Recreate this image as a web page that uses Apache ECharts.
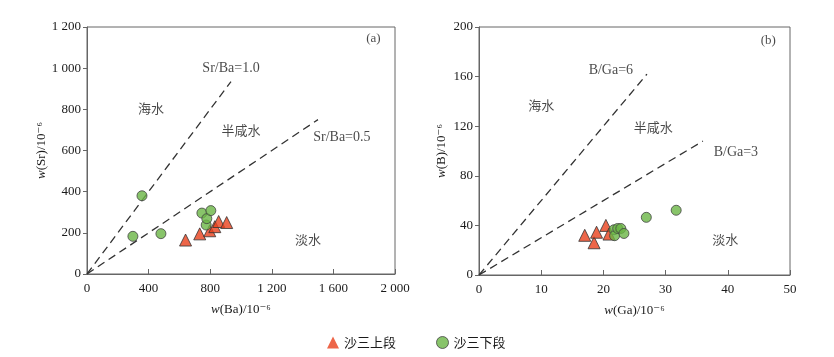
<!DOCTYPE html>
<html><head><meta charset="utf-8">
<script src="https://cdn.jsdelivr.net/npm/echarts@6/dist/echarts.min.js"></script>
<style>html,body{margin:0;padding:0;background:#fff}#c{width:834px;height:357px}</style>
</head><body><div id="c"></div>
<script>
// ---- data ----
const seriesNames = ['沙三上段', '沙三下段'];
// panel (a): Ba (x) vs Sr (y), 10^-6
const upperA = [[640,165],[732,195],[797,210],[830,230],[855,255],[907,250]];
const lowerA = [[298,183],[357,380],[480,196],[746,296],[774,238],[778,269],[804,308]];
// panel (b): Ga (x) vs B (y), 10^-6
const upperB = [[17.0,32],[18.5,26],[18.9,34.5],[20.4,40],[20.9,33]];
const lowerB = [[21.7,36.5],[21.8,31.7],[22.3,37.5],[22.8,37.5],[23.3,33.5],[26.9,46.5],[31.7,52.2]];
// ratio lines: ratio and x extent
const ratiosA = [1.0, 0.5];
const ratioEndA = [935, 1500];
const ratiosB = [6, 3];
const ratioEndB = [27, 36];
// axis ticks
const xTicksA = [0, 400, 800, 1200, 1600, 2000];
const yTicksA = [0, 200, 400, 600, 800, 1000, 1200];
const xTicksB = [0, 10, 20, 30, 40, 50];
const yTicksB = [0, 40, 80, 120, 160, 200];

const serif = '"Liberation Serif","DejaVu Serif",serif';
const cjk = '"Noto Sans CJK SC",sans-serif';
const txt = '#1a1a1a';
const axisCol = '#666';
const fmt = v => v >= 1000 ? String(v).replace(/(\d)(\d{3})$/, '$1 $2') : String(v);

function xAxis(gi, ticks, name) {
  return {
    gridIndex: gi, type: 'value', min: ticks[0], max: ticks[ticks.length-1],
    interval: ticks[1]-ticks[0],
    axisLine: {lineStyle: {color: axisCol, width: 1}},
    axisTick: {inside: true, length: 5, lineStyle: {color: axisCol}},
    axisLabel: {color: txt, fontFamily: serif, fontSize: 13, margin: 8, formatter: fmt},
    splitLine: {show: false},
    name: name, nameLocation: 'middle', nameGap: 29,
    nameTextStyle: {color: txt, fontFamily: serif, fontSize: 13,
      rich: {i: {fontStyle: 'italic', fontFamily: serif, fontSize: 13, color: txt}}}
  };
}
function yAxis(gi, ticks, name) {
  return {
    gridIndex: gi, type: 'value', min: ticks[0], max: ticks[ticks.length-1],
    interval: ticks[1]-ticks[0],
    axisLine: {lineStyle: {color: axisCol, width: 1}},
    axisTick: {inside: false, length: 4, lineStyle: {color: axisCol}},
    axisLabel: {color: txt, fontFamily: serif, fontSize: 13, margin: 6, formatter: fmt},
    splitLine: {show: false},
    name: name, nameLocation: 'middle', nameGap: 31,
    nameTextStyle: {color: txt, fontFamily: serif, fontSize: 13,
      rich: {i: {fontStyle: 'italic', fontFamily: serif, fontSize: 13, color: txt}}}
  };
}
function ratioLine(gi, r, xe) {
  return {type: 'line', xAxisIndex: gi, yAxisIndex: gi, silent: true, symbol: 'none',
    data: [[0,0],[xe, r*xe]],
    lineStyle: {color: '#333', width: 1.3, type: [8,5]}, z: 1};
}
function annot(gi, items) {
  return {type: 'scatter', xAxisIndex: gi, yAxisIndex: gi, silent: true, symbolSize: 0,
    data: items.map(it => ({value: [it[0], it[1]], label: {show: true, position: 'inside', formatter: it[2], color: txt, fontSize: it[4] || 14, fontFamily: it[3] || serif}})),
    z: 5};
}
const triStyle = {color: '#e8401c', borderColor: '#333', borderWidth: 1};
const cirStyle = {color: '#6ab545', borderColor: '#444', borderWidth: 1};

const option = {
  animation: false,
  backgroundColor: '#fff',
  grid: [
    {left: 87, right: 439, top: 27, bottom: 83, show: true, borderColor: axisCol, borderWidth: 1, backgroundColor: 'transparent'},
    {left: 479, right: 44, top: 27, bottom: 82, show: true, borderColor: axisCol, borderWidth: 1, backgroundColor: 'transparent'}
  ],
  xAxis: [xAxis(0, xTicksA, '{i|w}(Ba)/10⁻⁶'), xAxis(1, xTicksB, '{i|w}(Ga)/10⁻⁶')],
  yAxis: [yAxis(0, yTicksA, '{i|w}(Sr)/10⁻⁶'), yAxis(1, yTicksB, '{i|w}(B)/10⁻⁶')],
  legend: {
    data: [
      {name: seriesNames[0], icon: 'triangle', itemStyle: {color: '#e8401c', borderWidth: 0}},
      {name: seriesNames[1], icon: 'circle', itemStyle: {color: '#6ab545', borderColor: '#444', borderWidth: 1}}
    ],
    left: 322, top: 331, itemWidth: 12, itemHeight: 12, itemGap: 40,
    textStyle: {color: txt, fontFamily: cjk, fontSize: 13}
  },
  series: [
    ratioLine(0, ratiosA[0], ratioEndA[0]),
    ratioLine(0, ratiosA[1], ratioEndA[1]),
    ratioLine(1, ratiosB[0], ratioEndB[0]),
    ratioLine(1, ratiosB[1], ratioEndB[1]),
    annot(0, [[935, 1000, 'Sr/Ba=1.0'], [1655, 665, 'Sr/Ba=0.5'], [415, 805, '海水', cjk, 13], [1000, 700, '半咸水', cjk, 13], [1435, 170, '淡水', cjk, 13], [1860, 1145, '(a)', serif, 13]]),
    annot(1, [[21.2, 165, 'B/Ga=6'], [41.3, 99, 'B/Ga=3'], [10, 137, '海水', cjk, 13], [28, 119, '半咸水', cjk, 13], [39.6, 29, '淡水', cjk, 13], [46.5, 189, '(b)', serif, 13]]),
    {name: seriesNames[0], type: 'scatter', xAxisIndex: 0, yAxisIndex: 0, symbol: 'triangle', symbolSize: 12, data: upperA, itemStyle: triStyle, z: 3},
    {name: seriesNames[1], type: 'scatter', xAxisIndex: 0, yAxisIndex: 0, symbol: 'circle', symbolSize: 10, data: lowerA, itemStyle: cirStyle, z: 4},
    {name: seriesNames[0], type: 'scatter', xAxisIndex: 1, yAxisIndex: 1, symbol: 'triangle', symbolSize: 12, data: upperB, itemStyle: triStyle, z: 3},
    {name: seriesNames[1], type: 'scatter', xAxisIndex: 1, yAxisIndex: 1, symbol: 'circle', symbolSize: 10, data: lowerB, itemStyle: cirStyle, z: 4}
  ]
};
const chart = echarts.init(document.getElementById('c'), null, {renderer: 'canvas'});
chart.setOption(option);
</script></body></html>
